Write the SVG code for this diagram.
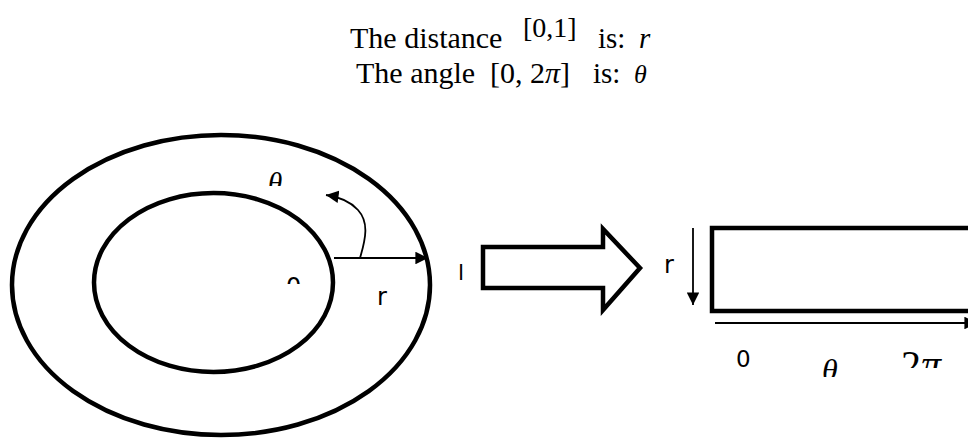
<svg xmlns="http://www.w3.org/2000/svg" width="968" height="439" viewBox="0 0 968 439">
  <style>
    .serif { font-family: "Liberation Serif", "Times New Roman", serif; fill: #000; }
    .it { font-style: italic; }
    .sans { font-family: "DejaVu Sans", "Liberation Sans", sans-serif; fill: #000; }
    .thick { fill: none; stroke: #000; stroke-width: 4.5; }
    .thin { fill: none; stroke: #000; stroke-width: 1.8; }
  </style>
  <defs>
    <clipPath id="clipTheta1"><rect x="250" y="150" width="60" height="36"/></clipPath>
    <clipPath id="clipZero1"><rect x="270" y="260" width="50" height="24"/></clipPath>
    <clipPath id="clipTheta2"><rect x="810" y="340" width="50" height="37"/></clipPath>
    <clipPath id="clipTwoPi"><rect x="890" y="330" width="78" height="38"/></clipPath>
    <marker id="ah" viewBox="0 0 10 10" refX="10" refY="5" markerWidth="7" markerHeight="7" markerUnits="strokeWidth" orient="auto">
      <path d="M0,0 L10,5 L0,10 Z" fill="#000"/>
    </marker>
  </defs>

  <g id="title">
    <text class="serif" x="350" y="48" font-size="30">The distance</text>
    <text class="serif" x="523" y="37" font-size="28">[0,1]</text>
    <text class="serif" x="598" y="48" font-size="29">is:</text>
    <text class="serif it" x="639" y="48" font-size="29">r</text>
    <text class="serif" x="356" y="83" font-size="30">The angle</text>
    <text class="serif" x="490" y="83" font-size="30">[0, 2<tspan class="it">π</tspan>]</text>
    <text class="serif" x="593" y="83" font-size="29">is:</text>
    <text class="serif it" x="634" y="83" font-size="26">θ</text>
  </g>

  <g id="annulus">
    <ellipse class="thick" cx="221" cy="285" rx="209" ry="150"/>
    <ellipse class="thick" cx="213.5" cy="282.5" rx="119.5" ry="89.5"/>
    <g clip-path="url(#clipTheta1)"><text class="serif it" x="268" y="193" font-size="29">θ</text></g>
    <g clip-path="url(#clipZero1)"><text class="sans" x="286" y="295" font-size="24">0</text></g>
    <text class="sans" x="377" y="305" font-size="24">r</text>
  </g>

  <g id="label-l">
    <text class="sans" x="458" y="280" font-size="22">l</text>
  </g>

  <g id="block-arrow">
    <polygon class="thick" fill="#fff" stroke-linejoin="miter" points="483,247 603,247 603,229 640,268 603,310 603,288 483,288"/>
  </g>

  <g id="rectangle">
    <rect class="thick" x="712" y="228" width="280" height="83"/>
    <text class="sans" x="664" y="273" font-size="24">r</text>
    <text class="sans" x="736" y="367" font-size="23">0</text>
    <g clip-path="url(#clipTheta2)"><text class="serif it" x="822" y="381" font-size="32">θ</text></g>
    <g clip-path="url(#clipTwoPi)"><text class="serif" x="901" y="378" font-size="40">2<tspan class="it">π</tspan></text></g>
  </g>

  <g id="connectors">
    <line class="thin" x1="334" y1="258" x2="428" y2="258" marker-end="url(#ah)"/>
    <path class="thin" d="M360,258 C366,238 369,222 358,210 C350,201 340,197 326,195" marker-end="url(#ah)"/>
    <line class="thin" x1="693" y1="228" x2="693" y2="305" marker-end="url(#ah)"/>
    <line class="thin" x1="715" y1="323" x2="977" y2="323" marker-end="url(#ah)"/>
  </g>
</svg>
